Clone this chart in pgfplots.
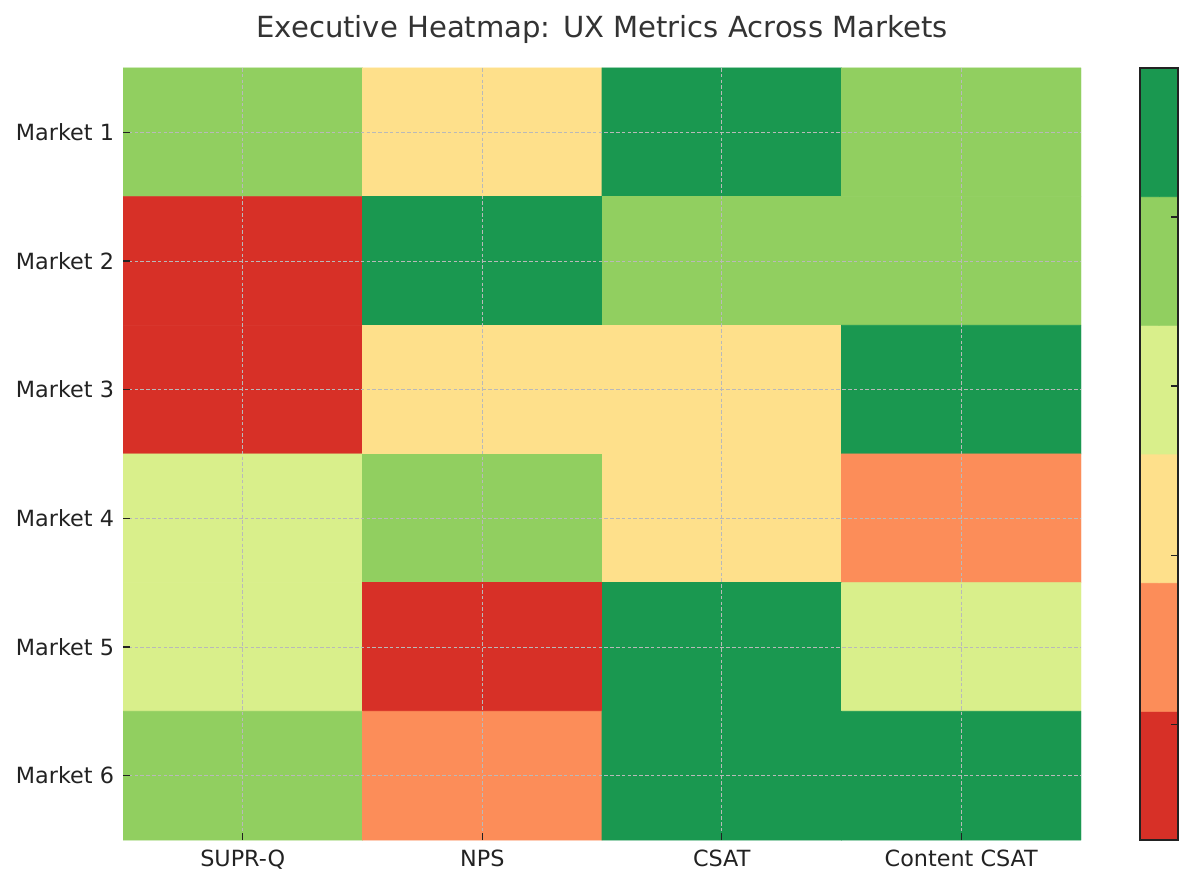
\documentclass[border=0pt]{standalone}
\usepackage{pgfplots}
\pgfplotsset{compat=1.18}
\usepackage{fontspec}
\setmainfont{DejaVu Sans}

\definecolor{titlegray}{RGB}{51,51,51}
\definecolor{tickgray}{RGB}{34,34,34}

% Score level (0 = worst, 5 = best) per market and metric
\pgfplotstableread{
x y v
0 1 4
1 1 2
2 1 5
3 1 4
0 2 0
1 2 5
2 2 4
3 2 4
0 3 0
1 3 2
2 3 2
3 3 5
0 4 3
1 4 4
2 4 2
3 4 1
0 5 3
1 5 0
2 5 5
3 5 3
0 6 4
1 6 1
2 6 5
3 6 5
}\scores

% Discrete colour scale, bottom to top
\pgfplotstableread{
x y v
0 0 0
1 0 0
0 1 1
1 1 1
0 2 2
1 2 2
0 3 3
1 3 3
0 4 4
1 4 4
0 5 5
1 5 5
}\scale

\pgfplotsset{
  colormap={rdylgnsix}{rgb255=(215,48,39) rgb255=(252,141,89) rgb255=(254,224,139)
    rgb255=(217,239,139) rgb255=(145,207,96) rgb255=(26,152,80)},
}

\begin{document}
\begin{tikzpicture}[x=1bp,y=1bp]
\path[use as bounding box] (0,0) rectangle (597,442.5);

\begin{axis}[
  at={(61.5bp,22.5bp)}, anchor=south west,
  scale only axis, width=479bp, height=386bp,
  xmin=-0.5, xmax=3.5, ymin=0.5, ymax=6.5,
  y dir=reverse,
  colormap name=rdylgnsix, colormap access=direct,
  axis line style={draw=none},
  axis on top,
  xtick={0,1,2,3},
  xticklabels={SUPR-Q,NPS,CSAT,Content CSAT},
  ytick={1,2,3,4,5,6},
  yticklabels={Market 1,Market 2,Market 3,Market 4,Market 5,Market 6},
  xtick pos=bottom, ytick pos=left,
  tick align=inside,
  major tick length=3.5bp,
  tick style={draw=tickgray, line width=0.6bp},
  ticklabel style={font=\fontsize{11.2}{13}\selectfont, text=tickgray},
  xticklabel style={yshift=-1.5bp},
  yticklabel style={xshift=-1bp},
  grid=major,
  major grid style={draw=gray!55, line width=0.45bp, dash pattern=on 1.8bp off 1.1bp},
]
\addplot[matrix plot*, mesh/cols=4, point meta=explicit] table[x=x, y=y, meta=v] {\scores};
\end{axis}

\begin{axis}[
  at={(570bp,22.5bp)}, anchor=south west,
  scale only axis, width=19bp, height=386bp,
  xmin=-0.5, xmax=1.5, ymin=-0.5, ymax=5.5,
  colormap name=rdylgnsix, colormap access=direct,
  axis on top,
  axis line style={draw=tickgray, line width=1bp},
  xtick=\empty,
  ytick={0.4,1.714,3.028,4.342},
  yticklabels={},
  ytick pos=right,
  tick align=inside,
  major tick length=3.5bp,
  tick style={draw=tickgray, line width=0.6bp},
]
\addplot[matrix plot*, mesh/cols=2, point meta=explicit] table[x=x, y=y, meta=v] {\scale};
\end{axis}

\node[text=titlegray, font=\fontsize{14.6}{17}\selectfont] at (301,428) {Executive Heatmap: UX Metrics Across Markets};
\end{tikzpicture}
\end{document}
